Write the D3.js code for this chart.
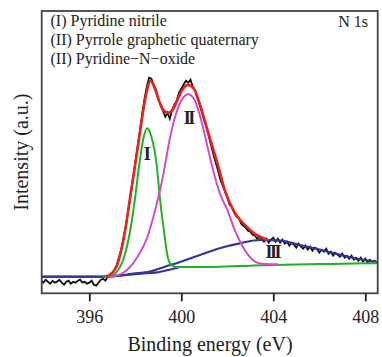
<!DOCTYPE html>
<html>
<head>
<meta charset="utf-8">
<script src="https://cdn.jsdelivr.net/npm/d3@7"></script>
<style>
  body { margin: 0; background: #fff; }
  svg text { font-family: "Liberation Serif", "DejaVu Serif", serif; fill: #222; }
</style>
</head>
<body>
<div id="chart"></div>
<script>
// Measured spectrum (N 1s), one value every 0.1 eV starting at 393.9 eV
const dataStart = 393.9, dataStep = 0.1;
const dataIntensity = [
  -4,-6,-3,-5,-7,-4,-6,-5,-3,-6,-8,-5,-4,-7,-5,-6,-4,-3,-6,-5,-7,-6,-4,-8,-9,-6,-3,
  -2,-4,0,1,4,7,12,20,28,40,52,67,82,98,114,130,146,163,178,190,199,198,192,187,
  178,171,166,160,164,158,167,172,176,184,188,192,196,194,197,190,186,179,172,164,
  156,149,140,131,122,114,106,97,91,85,79,72,70,64,60,59,53,51,49,46,45,42,41,38,
  40,37,35,38,34,37,39,35,38,34,37,33,35,31,34,32,29,33,30,28,31,27,30,26,29,28,
  24,27,25,28,23,25,21,24,22,20,23,19,21,18,21,17,19,16,19,15,18,14,17,15,16,14
];

// Fitted curves, [binding energy, intensity]
const baseline = [[393.93,0],[396.6,0],[397.0,0.5],[397.5,1.5],[398.0,2.5],[398.5,3.5],
  [399.0,4.5],[399.5,7],[399.9,9.5]];
const peakI = [[396.6,0],[397.0,1.5],[397.2,5],[397.5,18.7],[397.77,45],[397.99,78.7],
  [398.17,111.7],[398.35,138],[398.52,148.4],[398.7,140],[398.93,111.7],[399.07,78.7],
  [399.25,45],[399.42,18.7],[399.6,11],[399.8,9.6],[400.5,9.6],[401.7,10],[403.0,11],
  [404.5,12],[406.0,12.6],[407.5,13.2],[408.54,13.5]];
const peakII = [[396.9,0.5],[397.3,2],[397.7,8],[398.1,20],[398.5,38],[398.9,70],
  [399.2,100],[399.5,138],[399.8,165],[400.05,178],[400.3,182.5],[400.55,178],
  [400.8,162],[401.1,134],[401.4,105],[401.7,82],[402.0,67],[402.3,48],[402.7,29],
  [403.1,17],[403.5,13],[404.2,12.5]];
const peakIII = [[393.93,0],[396.6,0],[397.33,1],[397.77,2.7],[398.64,5.2],[399.29,10],
  [399.95,14.7],[400.81,21.7],[401.9,30],[402.55,33.4],[403.42,36.7],[404.29,36],
  [405.16,31.7],[406.1,26.7],[407.25,20],[408.43,15],[408.54,14.6]];
const envelope = [[396.7,0],[397.03,4.7],[397.2,11],[397.41,28.7],[397.6,52],[397.77,78.7],
  [398.0,113],[398.2,143.7],[398.45,180],[398.67,196],[398.85,188],[399.05,175],
  [399.25,166],[399.42,164],[399.6,166],[399.8,175],[400.05,187],[400.3,191.7],
  [400.55,188],[400.8,173],[401.16,145],[401.6,111],[401.9,86],[402.25,67],
  [402.84,50],[403.2,43],[403.55,38.7],[403.75,36.8]];

const xTicks = [396, 400, 404, 408];
const legendLines = ["(I) Pyridine nitrile", "(II) Pyrrole graphetic quaternary", "(II) Pyridine\u2212N\u2212oxide"];
const peakLabels = [["I", 398.47, 116.5], ["II", 400.3, 153], ["III", 403.95, 19]];

const width = 382, height = 357;
const margin = {top: 11, right: 4.3, bottom: 63.7, left: 41.7};

const svg = d3.select("#chart").append("svg")
  .attr("width", width)
  .attr("height", height);

const x = d3.scaleLinear().domain([393.93, 408.54]).range([margin.left, width - margin.right]);
const y = d3.scaleLinear().domain([-16.6, 265.7]).range([height - margin.bottom, margin.top]);

const smooth = d3.line().x(d => x(d[0])).y(d => y(d[1])).curve(d3.curveMonotoneX);
const raw = d3.line().x((d, i) => x(dataStart + i * dataStep)).y(d => y(d));

const plot = svg.append("g");

// clip to frame
svg.append("clipPath").attr("id", "clip").append("rect")
  .attr("x", margin.left).attr("y", margin.top)
  .attr("width", width - margin.left - margin.right)
  .attr("height", height - margin.top - margin.bottom);
plot.attr("clip-path", "url(#clip)");

plot.append("path").attr("d", raw(dataIntensity))
  .attr("fill", "none").attr("stroke", "#111").attr("stroke-width", 1.8);

plot.append("path").attr("d", smooth(baseline))
  .attr("fill", "none").attr("stroke", "#33339c").attr("stroke-width", 2);
plot.append("path").attr("d", smooth(peakIII))
  .attr("fill", "none").attr("stroke", "#33339c").attr("stroke-width", 2.2);
plot.append("path").attr("d", smooth(peakI))
  .attr("fill", "none").attr("stroke", "#22b024").attr("stroke-width", 2);
plot.append("path").attr("d", smooth(peakII))
  .attr("fill", "none").attr("stroke", "#d44ccb").attr("stroke-width", 2);
plot.append("path").attr("d", smooth(envelope))
  .attr("fill", "none").attr("stroke", "#e8231c").attr("stroke-width", 2.6);

// peak labels
svg.selectAll(".peak-label")
  .data(peakLabels)
  .enter().append("text")
  .attr("class", "peak-label")
  .attr("x", d => x(d[1]))
  .attr("y", d => y(d[2]))
  .attr("text-anchor", "middle")
  .style("font-size", "18px")
  .style("font-weight", "bold")
  .style("letter-spacing", "-2.5px")
  .style("fill", "#222")
  .text(d => d[0]);

// frame
svg.append("rect")
  .attr("x", margin.left).attr("y", margin.top)
  .attr("width", width - margin.left - margin.right)
  .attr("height", height - margin.top - margin.bottom)
  .attr("fill", "none").attr("stroke", "#444").attr("stroke-width", 1.8);

// x axis
const xAxis = svg.append("g")
  .attr("transform", "translate(0," + (height - margin.bottom) + ")")
  .call(d3.axisBottom(x).tickValues(xTicks).tickSize(8).tickSizeOuter(0).tickPadding(9));
xAxis.select(".domain").remove();
xAxis.selectAll("line").attr("stroke", "#222").attr("stroke-width", 1.8);
xAxis.selectAll("text").style("font-size", "18px").style("font-family", "Liberation Serif, serif").attr("fill", "#222");

svg.append("text")
  .attr("x", 210).attr("y", 350.5)
  .attr("text-anchor", "middle")
  .style("font-size", "20px")
  .text("Binding energy (eV)");

svg.append("text")
  .attr("transform", "translate(28," + ((margin.top + height - margin.bottom) / 2) + ") rotate(-90)")
  .attr("text-anchor", "middle")
  .style("font-size", "20px")
  .text("Intensity (a.u.)");

// legend text
svg.selectAll(".legend")
  .data(legendLines)
  .enter().append("text")
  .attr("class", "legend")
  .attr("x", 50.5)
  .attr("y", (d, i) => 26 + i * 19)
  .style("font-size", "16px")
  .text(d => d);

svg.append("text")
  .attr("x", 368).attr("y", 26.5)
  .attr("text-anchor", "end")
  .style("font-size", "16px")
  .text("N 1s");
</script>
</body>
</html>
